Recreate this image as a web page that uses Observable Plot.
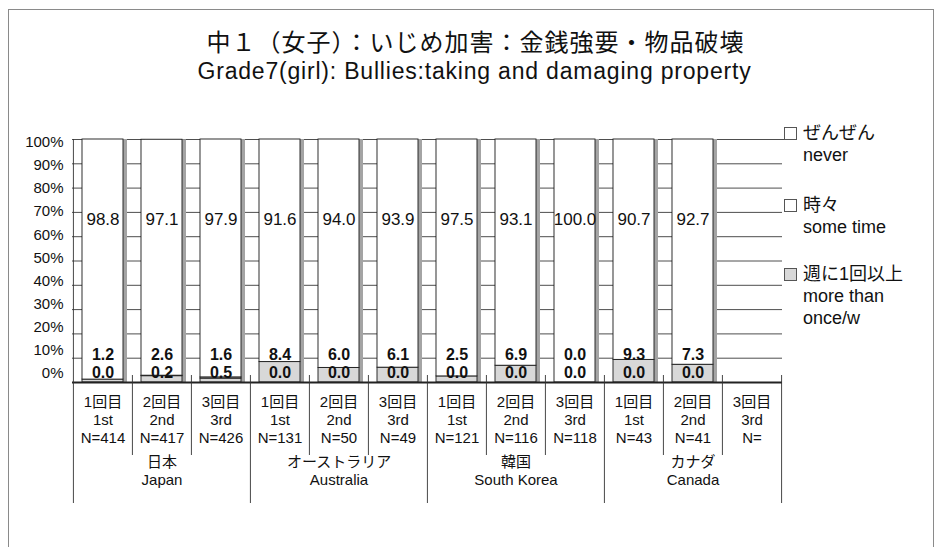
<!DOCTYPE html>
<html><head><meta charset="utf-8">
<script src="https://cdn.jsdelivr.net/npm/d3@7"></script>
<script src="https://cdn.jsdelivr.net/npm/@observablehq/plot@0.6"></script>
<style>
body{margin:0;background:#fff;}
#wrap{position:relative;width:941px;height:547px;overflow:hidden;font-family:"Liberation Sans","Noto Sans CJK JP",sans-serif;color:#111;}
#border{position:absolute;left:8px;top:9px;width:924px;height:545px;border:1px solid #8a8a8a;border-bottom:none;}
.t{position:absolute;left:0;width:941px;text-align:center;line-height:1;white-space:nowrap;}
#t1{top:29px;left:5px;font-size:24px;letter-spacing:1px;font-family:"Noto Sans CJK JP","Liberation Sans",sans-serif;}
#t2{top:60px;left:4px;font-size:23px;letter-spacing:0.8px;}
#chart{position:absolute;left:0;top:0;}
.lg{position:absolute;font-size:18px;line-height:1;white-space:nowrap;}
.box{position:absolute;width:11px;height:11px;border:1px solid #555;background:#fff;}
</style></head>
<body>
<div id="wrap">
  <div id="chart"></div>
  <div id="border"></div>
  <div class="t" id="t1"></div>
  <div class="t" id="t2"></div>
  <div id="legend"></div>
</div>
<script>
// ---- data ----
const titleJa = "中１（女子）：いじめ加害：金銭強要・物品破壊";
const titleEn = "Grade7(girl): Bullies:taking and damaging property";
const countriesJa = ["日本", "オーストラリア", "韓国", "カナダ"];
const countriesEn = ["Japan", "Australia", "South Korea", "Canada"];
const roundsJa = ["1回目", "2回目", "3回目"];
const roundsEn = ["1st", "2nd", "3rd"];
const sampleN = ["414", "417", "426", "131", "50", "49", "121", "116", "118", "43", "41", ""];
const never    = [98.8, 97.1, 97.9, 91.6, 94.0, 93.9, 97.5, 93.1, 100.0, 90.7, 92.7, null];
const sometime = [1.2, 2.6, 1.6, 8.4, 6.0, 6.1, 2.5, 6.9, 0.0, 9.3, 7.3, null];
const weekly   = [0.0, 0.2, 0.5, 0.0, 0.0, 0.0, 0.0, 0.0, 0.0, 0.0, 0.0, null];
const yTicks = [0, 10, 20, 30, 40, 50, 60, 70, 80, 90, 100];
const legendItems = [
  {ja: "ぜんぜん", en: ["never"], key: "never"},
  {ja: "時々", en: ["some time"], key: "sometime"},
  {ja: "週に1回以上", en: ["more than", "once/w"], key: "weekly"}
];

// ---- layout ----
const W = 941, H = 547;
const mL = 72, mR = 159, mT = 139, mB = 165;
const step = (W - mL - mR) / 12;
const font = '"Liberation Sans","Noto Sans CJK JP",sans-serif';
const grayFill = "#d8d8d8";

document.getElementById("t1").textContent = titleJa;
document.getElementById("t2").textContent = titleEn;

const slots = countriesJa.flatMap((c, ci) => roundsJa.map((r, ri) => {
  const i = ci * 3 + ri;
  return {key: `${ci}-${ri}`, ci, ri, i, roundJa: r, roundEn: roundsEn[ri], n: "N=" + sampleN[i],
          has: never[i] != null,
          total: (never[i] ?? 0) + (sometime[i] ?? 0) + (weekly[i] ?? 0)};
}));
const filled = slots.filter(s => s.has);
const segs = filled.flatMap(s => [
  {key: s.key, series: "sometime", value: sometime[s.i]},
  {key: s.key, series: "weekly", value: weekly[s.i]},
  {key: s.key, series: "never", value: never[s.i]}
]);

const chart = Plot.plot({
  width: W, height: H,
  marginLeft: mL, marginRight: mR, marginTop: mT, marginBottom: mB,
  style: {fontFamily: font, background: "transparent", color: "#111", overflow: "visible"},
  x: {domain: slots.map(s => s.key), paddingInner: 0.307, paddingOuter: 0.1535, axis: null},
  y: {domain: [0, 100], axis: null},
  color: {domain: ["sometime", "weekly", "never"], range: [grayFill, "#ffffff", "#ffffff"]},
  marks: [
    // gridlines
    Plot.ruleY(yTicks.filter(t => t > 0 && t < 100), {stroke: "#3a3a3a", strokeWidth: 0.9}),
    Plot.ruleY([100], {stroke: "#3a3a3a", strokeWidth: 0.9, insetRight: -3}),
    // 3D side shadow
    Plot.barY(filled, {x: "key", y: "total", fill: "#a4a4a4", dx: 4}),
    // stacked bars
    Plot.barY(segs, {x: "key", y: "value", z: "series", order: ["sometime", "weekly", "never"],
      fill: "series", stroke: "#1a1a1a", strokeWidth: 0.9}),
    Plot.ruleY([0], {stroke: "#222", strokeWidth: 2}),
    // y labels (slightly compressed relative to gridlines, as in the original)
    Plot.text(yTicks, {y: d => 3.7 + d * 0.952, frameAnchor: "left", dx: -9, textAnchor: "end",
      text: d => d + "%", fontSize: 15}),
    // value labels
    Plot.text(filled, {x: "key", y: 67, text: s => never[s.i].toFixed(1), fontSize: 17}),
    Plot.text(filled, {x: "key", y: 11.5, text: s => sometime[s.i].toFixed(1), fontSize: 16, fontWeight: "bold"}),
    Plot.text(filled, {x: "key", y: 3.8, text: s => weekly[s.i].toFixed(1), fontSize: 16, fontWeight: "bold"}),
    // category dividers
    Plot.ruleX(slots.filter(s => s.ri > 0), {x: "key", dx: -step / 2, insetTop: 236, insetBottom: -73, stroke: "#333", strokeWidth: 0.9}),
    Plot.ruleX(slots.filter(s => s.ri === 0 && s.ci > 0), {x: "key", dx: -step / 2, insetTop: 236, insetBottom: -121, stroke: "#333", strokeWidth: 0.9}),
    Plot.ruleX(slots.slice(0, 1), {x: "key", dx: -step / 2, insetBottom: -121, stroke: "#333", strokeWidth: 0.9}),
    Plot.ruleX(slots.slice(-1), {x: "key", dx: step / 2, insetTop: 236, insetBottom: -121, stroke: "#333", strokeWidth: 0.9}),
    // category labels
    Plot.text(slots, {x: "key", frameAnchor: "bottom", dy: 24, text: "roundJa", fontSize: 15}),
    Plot.text(slots, {x: "key", frameAnchor: "bottom", dy: 42, text: "roundEn", fontSize: 15}),
    Plot.text(slots, {x: "key", frameAnchor: "bottom", dy: 60, text: "n", fontSize: 15}),
    Plot.text(slots.filter(s => s.ri === 1), {x: "key", frameAnchor: "bottom", dy: 84, text: s => countriesJa[s.ci], fontSize: 15}),
    Plot.text(slots.filter(s => s.ri === 1), {x: "key", frameAnchor: "bottom", dy: 102, text: s => countriesEn[s.ci], fontSize: 15})
  ]
});
document.getElementById("chart").appendChild(chart);

// ---- legend ----
const lg = document.getElementById("legend");
const rowTops = [127, 199, 268];
legendItems.forEach((it, k) => {
  const top = rowTops[k];
  const b = document.createElement("div");
  b.className = "box";
  b.style.left = "784px"; b.style.top = top + "px";
  b.style.background = it.key === "weekly" ? grayFill : "#fff";
  lg.appendChild(b);
  const j = document.createElement("div");
  j.className = "lg"; j.style.left = "803px"; j.style.top = (top - 3) + "px";
  j.textContent = it.ja; lg.appendChild(j);
  it.en.forEach((e, m) => {
    const d = document.createElement("div");
    d.className = "lg"; d.style.left = "803px"; d.style.top = (top + 19 + m * 22) + "px";
    d.textContent = e; lg.appendChild(d);
  });
});
</script>
</body></html>
